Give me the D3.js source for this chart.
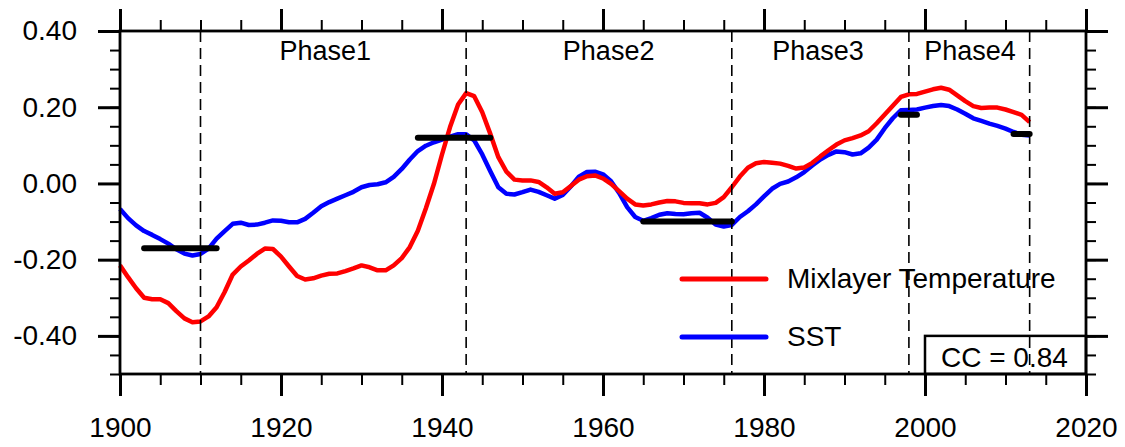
<!DOCTYPE html>
<html>
<head>
<meta charset="utf-8">
<script src="https://cdn.jsdelivr.net/npm/d3@7"></script>
<style>
  html, body { margin: 0; padding: 0; background: #fff; }
  svg { display: block; }
  text { font-family: "Liberation Sans", Arial, Helvetica, sans-serif; fill: #000; }
</style>
</head>
<body>
<svg id="chart" width="1125" height="447"></svg>
<script>
// ---------------- DATA ----------------
const startYear = 1900;
const mixlayerTemp = [
  -0.215, -0.246, -0.275, -0.300, -0.304, -0.304, -0.314, -0.335, -0.354, -0.364,
  -0.362, -0.349, -0.325, -0.285, -0.239, -0.218, -0.202, -0.185, -0.171, -0.172,
  -0.192, -0.218, -0.243, -0.252, -0.249, -0.242, -0.237, -0.236, -0.230, -0.223,
  -0.215, -0.220, -0.228, -0.228, -0.215, -0.196, -0.167, -0.124, -0.065, -0.001,
   0.076,  0.148,  0.207,  0.237,  0.229,  0.187,  0.130,  0.069,  0.031,  0.010,
   0.008,  0.008,  0.004, -0.010, -0.027, -0.023, -0.007,  0.010,  0.019,  0.021,
   0.013, -0.001, -0.020, -0.040, -0.055, -0.058, -0.055, -0.050, -0.046, -0.047,
  -0.051, -0.052, -0.052, -0.055, -0.051, -0.036, -0.010,  0.018,  0.041,  0.053,
   0.056,  0.054,  0.052,  0.046,  0.039,  0.042,  0.054,  0.071,  0.087,  0.102,
   0.113,  0.119,  0.126,  0.137,  0.158,  0.181,  0.204,  0.227,  0.234,  0.235,
   0.241,  0.247,  0.251,  0.246,  0.231,  0.216,  0.203,  0.198,  0.199,  0.199,
   0.194,  0.187,  0.180,  0.161
];
const sst = [
  -0.067, -0.091, -0.110, -0.125, -0.135, -0.146, -0.158, -0.173, -0.184, -0.189,
  -0.185, -0.171, -0.145, -0.125, -0.106, -0.103, -0.109, -0.108, -0.103, -0.097,
  -0.098, -0.102, -0.102, -0.093, -0.077, -0.060, -0.049, -0.040, -0.031, -0.022,
  -0.010, -0.004, -0.002,  0.003,  0.017,  0.038,  0.063,  0.085,  0.099,  0.108,
   0.115,  0.123,  0.129,  0.129,  0.113,  0.076,  0.032, -0.010, -0.027, -0.029,
  -0.023, -0.016, -0.022, -0.031, -0.040, -0.030, -0.008,  0.018,  0.030,  0.031,
   0.024,  0.006, -0.025, -0.062, -0.088, -0.098, -0.091, -0.082, -0.078, -0.080,
  -0.081, -0.078, -0.077, -0.090, -0.108, -0.113, -0.109, -0.088, -0.073, -0.055,
  -0.034, -0.014, -0.001,  0.005,  0.016,  0.030,  0.047,  0.063,  0.075,  0.084,
   0.082,  0.076,  0.079,  0.094,  0.115,  0.145,  0.171,  0.192,  0.193,  0.194,
   0.199,  0.203,  0.206,  0.203,  0.194,  0.183,  0.171,  0.164,  0.157,  0.151,
   0.144,  0.135,  0.128,  0.126
];
const years = d3.range(startYear, startYear + sst.length);

const phaseBoundaries = [1910, 1943, 1976, 1998, 2013];
const phaseLabels = ["Phase1", "Phase2", "Phase3", "Phase4"];
const phaseLabelYears = [1925.5, 1960.7, 1986.7, 2005.6];

const meanStart = [1903, 1937, 1965, 1997, 2011];
const meanEnd   = [1912, 1946, 1976, 1999, 2013];
const meanValue = [-0.17, 0.12, -0.10, 0.18, 0.13];

const xMajorTicks = [1900, 1920, 1940, 1960, 1980, 2000, 2020];
const xMinorTicks = d3.range(1900, 2021, 5);
const yMajorTicks = [-0.40, -0.20, 0.00, 0.20, 0.40];
const yMinorTicks = d3.range(-10, 9).map(i => i * 0.05);

const seriesNames = ["Mixlayer Temperature", "SST"];
const seriesColors = ["#ff0000", "#0000ff"];
const ccText = "CC = 0.84";

// ---------------- LAYOUT ----------------
const pLeft = 120, pRight = 1086, pTop = 31, pBottom = 374;
const svg = d3.select("#chart");

const x = d3.scaleLinear().domain([1900, 2020]).range([pLeft, pRight]);
const y = d3.scaleLinear().domain([-0.5, 0.4]).range([pBottom, pTop]);

const fmtY = d => d.toFixed(2);
const FS = 28;

function styleAxis(g) {
  g.select(".domain").remove();
  g.selectAll(".tick line").attr("stroke", "#000");
  g.selectAll("text").style("font-size", FS + "px")
    .style("font-family", '"Liberation Sans", Arial, Helvetica, sans-serif').attr("fill", "#000");
}
function addAxis(axis, tx, ty, width) {
  svg.append("g").attr("transform", `translate(${tx},${ty})`)
    .call(axis).call(styleAxis)
    .selectAll(".tick line").attr("stroke-width", width);
}
// bottom
addAxis(d3.axisBottom(x).tickValues(xMinorTicks).tickSize(11).tickFormat(""), 0, pBottom, 2);
addAxis(d3.axisBottom(x).tickValues(xMajorTicks).tickSize(22).tickPadding(21).tickFormat(d3.format("d")), 0, pBottom, 3);
// top
addAxis(d3.axisTop(x).tickValues(xMinorTicks).tickSize(11).tickFormat(""), 0, pTop, 2);
addAxis(d3.axisTop(x).tickValues(xMajorTicks).tickSize(22).tickFormat(""), 0, pTop, 3);
// left
addAxis(d3.axisLeft(y).tickValues(yMinorTicks).tickSize(10).tickFormat(""), pLeft, 0, 2);
addAxis(d3.axisLeft(y).tickValues(yMajorTicks).tickSize(22).tickPadding(21).tickFormat(fmtY), pLeft, 0, 3);
// right
addAxis(d3.axisRight(y).tickValues(yMinorTicks).tickSize(10).tickFormat(""), pRight, 0, 2);
addAxis(d3.axisRight(y).tickValues(yMajorTicks).tickSize(22).tickFormat(""), pRight, 0, 3);

// series lines
const line = d3.line().x((d, i) => x(years[i])).y(d => y(d));
svg.append("path").datum(sst)
  .attr("d", line).attr("fill", "none").attr("stroke", seriesColors[1])
  .attr("stroke-width", 4.5).attr("stroke-linejoin", "round");
svg.append("path").datum(mixlayerTemp)
  .attr("d", line).attr("fill", "none").attr("stroke", seriesColors[0])
  .attr("stroke-width", 4.5).attr("stroke-linejoin", "round");

// phase boundary dashed lines
svg.selectAll(".phase-line").data(phaseBoundaries).enter().append("line")
  .attr("x1", d => x(d)).attr("x2", d => x(d))
  .attr("y1", pTop).attr("y2", pBottom)
  .attr("stroke", "#000").attr("stroke-width", 1.6)
  .attr("stroke-dasharray", "11,6");

// phase labels
svg.selectAll(".phase-label").data(phaseLabels).enter().append("text")
  .attr("x", (d, i) => x(phaseLabelYears[i])).attr("y", 60)
  .attr("text-anchor", "middle").style("font-size", "27px").text(d => d);

// phase means
svg.selectAll(".mean").data(meanValue).enter().append("line")
  .attr("x1", (d, i) => x(meanStart[i])).attr("x2", (d, i) => x(meanEnd[i]))
  .attr("y1", d => y(d)).attr("y2", d => y(d))
  .attr("stroke", "#000").attr("stroke-width", 6).attr("stroke-linecap", "round");

// legend
const legX1 = 682, legX2 = 766, legTextX = 787;
const legY = [279, 337];
seriesNames.forEach((name, i) => {
  svg.append("line").attr("x1", legX1).attr("x2", legX2)
    .attr("y1", legY[i]).attr("y2", legY[i])
    .attr("stroke", seriesColors[i]).attr("stroke-width", 5).attr("stroke-linecap", "round");
  svg.append("text").attr("x", legTextX).attr("y", legY[i] + 9)
    .style("font-size", FS + "px").text(name);
});

// CC box
svg.append("rect")
  .attr("x", x(2000)).attr("y", y(-0.4))
  .attr("width", x(2020) - x(2000)).attr("height", y(-0.5) - y(-0.4))
  .attr("fill", "none").attr("stroke", "#000").attr("stroke-width", 2.5);
svg.append("text").attr("x", x(2000) + 16).attr("y", 367)
  .style("font-size", FS + "px").text(ccText);

// frame
svg.append("rect").attr("x", pLeft).attr("y", pTop)
  .attr("width", pRight - pLeft).attr("height", pBottom - pTop)
  .attr("fill", "none").attr("stroke", "#000").attr("stroke-width", 2.8);
</script>
</body>
</html>
